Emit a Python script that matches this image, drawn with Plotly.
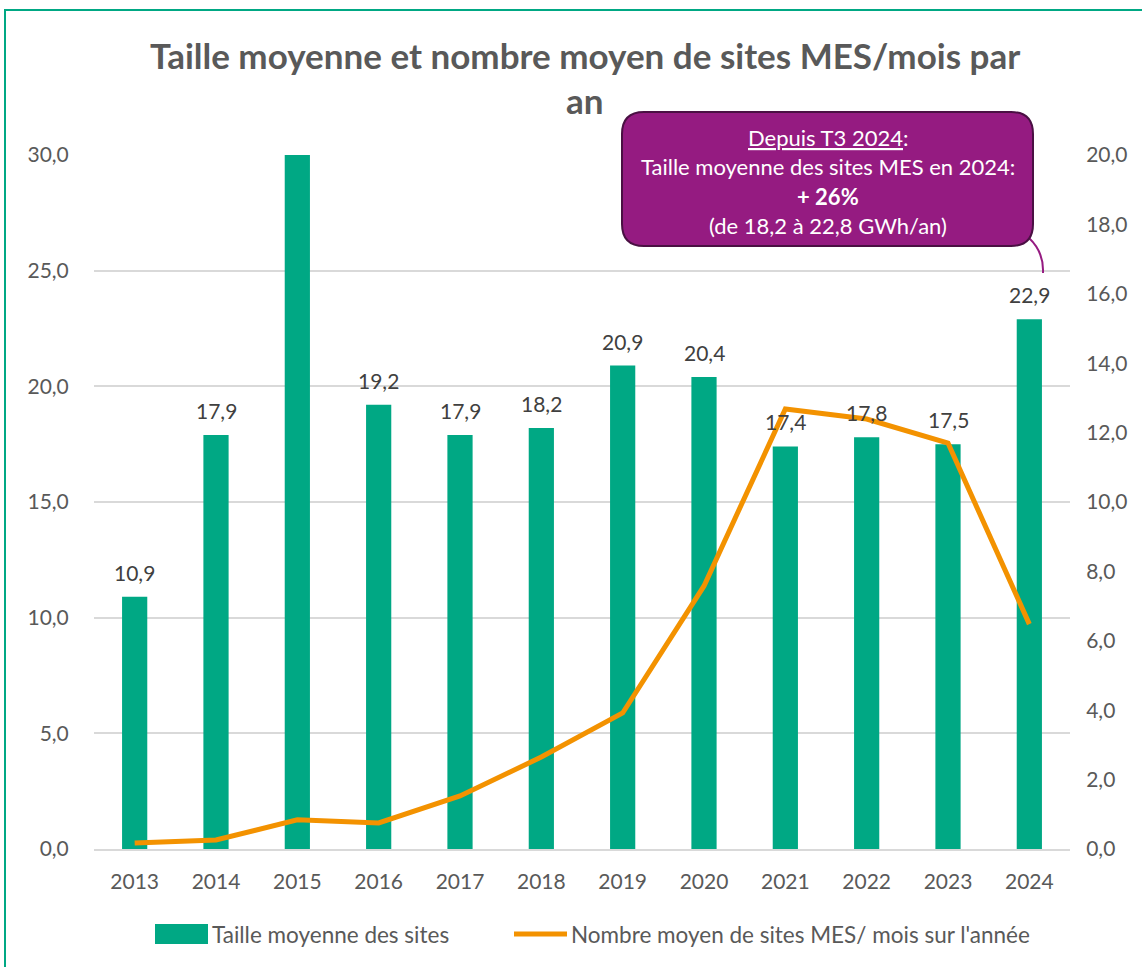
import plotly.graph_objects as go

# data
years = ['2013', '2014', '2015', '2016', '2017', '2018', '2019', '2020', '2021', '2022', '2023', '2024']
taille_moyenne = [10.9, 17.9, 30.0, 19.2, 17.9, 18.2, 20.9, 20.4, 17.4, 17.8, 17.5, 22.9]
nombre_moyen = [0.17, 0.26, 0.84, 0.75, 1.53, 2.65, 3.92, 7.58, 12.68, 12.39, 11.70, 6.48]

bar_name = 'Taille moyenne des sites'
line_name = "Nombre moyen de sites MES/ mois sur l'année"

left_max = 30
right_max = 20

GREEN = '#00A884'
ORANGE = '#F39200'
PURPLE = '#951B81'
GREY = '#595959'
FONT = 'Lato'

W, H = 1142, 967
ML, MR, MT, MB = 94, 72, 155, 118
PW, PH = W - ML - MR, H - MT - MB


def px(x):
    return (x - ML) / PW


def py(y):
    return (H - MB - y) / PH


fig = go.Figure()

fig.add_trace(go.Bar(
    x=years,
    y=taille_moyenne,
    name=bar_name,
    marker=dict(color=GREEN, line=dict(width=0)),
    width=0.31,
    showlegend=False,
))

fig.add_trace(go.Scatter(
    x=years,
    y=nombre_moyen,
    name=line_name,
    yaxis='y2',
    mode='lines',
    line=dict(color=ORANGE, width=5),
    showlegend=False,
))

# data labels above the bars (hidden when the bar goes past the axis, as in Excel)
for i, v in enumerate(taille_moyenne):
    if v < left_max:
        fig.add_annotation(x=i, y=v, xref='x', yref='y',
                           text=f"{v:.1f}".replace('.', ','),
                           yanchor='bottom', yshift=10, showarrow=False,
                           font=dict(size=21, color='#404040', family=FONT))

# green frame around the chart area
fig.add_shape(type='rect', xref='paper', yref='paper',
              x0=px(5), x1=px(1200), y0=py(1000), y1=py(10),
              line=dict(color=GREEN, width=2), fillcolor='rgba(0,0,0,0)')

# callout tail
fig.add_shape(type='path', xref='paper', yref='paper',
              path=f"M {px(1029)},{py(238)} Q {px(1044)},{py(252)} {px(1043)},{py(273)}",
              line=dict(color=PURPLE, width=2))

# callout box with rounded corners
x0, x1, y0, y1 = px(622), px(1033), py(246), py(112)
rx, ry = 22 / PW, 22 / PH
box = (f"M {x0+rx},{y1} L {x1-rx},{y1} Q {x1},{y1} {x1},{y1-ry} "
       f"L {x1},{y0+ry} Q {x1},{y0} {x1-rx},{y0} L {x0+rx},{y0} "
       f"Q {x0},{y0} {x0},{y0+ry} L {x0},{y1-ry} Q {x0},{y1} {x0+rx},{y1} Z")
fig.add_shape(type='path', xref='paper', yref='paper', path=box,
              fillcolor=PURPLE, line=dict(color='#4A1043', width=2))

callout_lines = [
    ("<span style='text-decoration:underline'>Depuis T3 2024</span>:", 138),
    ("Taille moyenne des sites MES en 2024:", 167),
    ("<b>+ 26%</b>", 196),
    ("(de 18,2 à 22,8 GWh/an)", 225),
]
for txt, yy in callout_lines:
    fig.add_annotation(text=txt, xref='paper', yref='paper',
                       x=px(828), y=py(yy), xanchor='center', yanchor='middle',
                       showarrow=False, font=dict(size=22, color='white', family=FONT))

# title, two lines
for txt, yy in [('Taille moyenne et nombre moyen de sites MES/mois par', 55), ('an', 100)]:
    fig.add_annotation(text=f'<b>{txt}</b>', xref='paper', yref='paper',
                       x=px(585), y=py(yy), xanchor='center', yanchor='middle',
                       showarrow=False, font=dict(size=35, color=GREY, family=FONT))

# legend drawn by hand (wide bar swatch as in Excel)
fig.add_shape(type='rect', xref='paper', yref='paper',
              x0=px(155), x1=px(208), y0=py(944), y1=py(924),
              fillcolor=GREEN, line=dict(width=0))
fig.add_annotation(text=bar_name, xref='paper', yref='paper',
                   x=px(210), y=py(934), xanchor='left', yanchor='middle',
                   showarrow=False, font=dict(size=22.5, color=GREY, family=FONT))
fig.add_shape(type='line', xref='paper', yref='paper',
              x0=px(514), x1=px(567), y0=py(934), y1=py(934),
              line=dict(color=ORANGE, width=5))
fig.add_annotation(text=line_name, xref='paper', yref='paper',
                   x=px(569), y=py(934), xanchor='left', yanchor='middle',
                   showarrow=False, font=dict(size=22.5, color=GREY, family=FONT))

fig.update_layout(
    width=W, height=H,
    margin=dict(l=ML, r=MR, t=MT, b=MB),
    paper_bgcolor='white',
    plot_bgcolor='white',
    separators=', ',
    font=dict(family=FONT, color=GREY),
    showlegend=False,
    xaxis=dict(
        type='category',
        range=[-0.5, len(years) - 0.5],
        showgrid=False,
        showline=True, linecolor='#D9D9D9', linewidth=2,
        tickfont=dict(size=21, color=GREY),
        ticks='outside', ticklen=13, tickcolor='rgba(0,0,0,0)',
    ),
    yaxis=dict(
        range=[0, left_max], dtick=5, tickformat='.1f',
        showgrid=True, gridcolor='#D9D9D9', gridwidth=1.5,
        zeroline=False,
        tickfont=dict(size=21, color=GREY),
        ticks='outside', ticklen=20, tickcolor='rgba(0,0,0,0)',
    ),
    yaxis2=dict(
        range=[0, right_max], dtick=2, tickformat='.1f',
        overlaying='y', side='right',
        showgrid=False, zeroline=False,
        tickfont=dict(size=21, color=GREY),
        ticks='outside', ticklen=11, tickcolor='rgba(0,0,0,0)',
    ),
)

fig.write_html("out.html", config={'displayModeBar': False},
               post_script="document.body.style.margin='0';")
